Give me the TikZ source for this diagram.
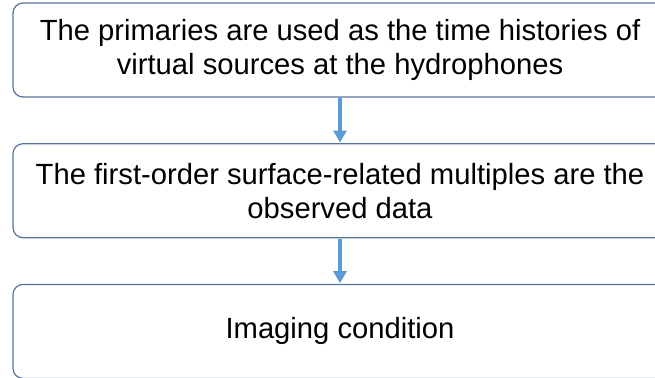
\documentclass[tikz,border=0pt]{standalone}
\usepackage{fontspec}
\setmainfont{Liberation Sans}
\usetikzlibrary{positioning,arrows.meta}
\definecolor{boxline}{RGB}{84,115,156}
\definecolor{arrowblue}{RGB}{91,155,213}
\tikzset{
  stepbox/.style={draw=boxline, line width=1.2pt, rounded corners=10pt,
    minimum width=654pt, minimum height=94pt, align=center,
    font=\fontsize{29.2}{34}\selectfont},
  flow/.style={draw=arrowblue, line width=4pt,
    -{Triangle[width=13pt,length=12pt]}, shorten >=0.6pt, shorten <=0.6pt}
}

\begin{document}
\begin{tikzpicture}[x=1pt,y=-1pt, node distance=45.5pt]
  \useasboundingbox (0,0) rectangle (655,377);
  \node[stepbox] (prim) at (340,50) {The primaries are used as the time histories of\\virtual sources at the hydrophones} ;
  \node[stepbox, below=of prim] (mult) {The first-order surface-related multiples are the\\observed data} ;
  \node[stepbox, below=of mult] (img) {Imaging condition} ;
  \draw[flow] (prim) -- (mult) ;
  \draw[flow] (mult) -- (img) ;
\end{tikzpicture}
\end{document}
